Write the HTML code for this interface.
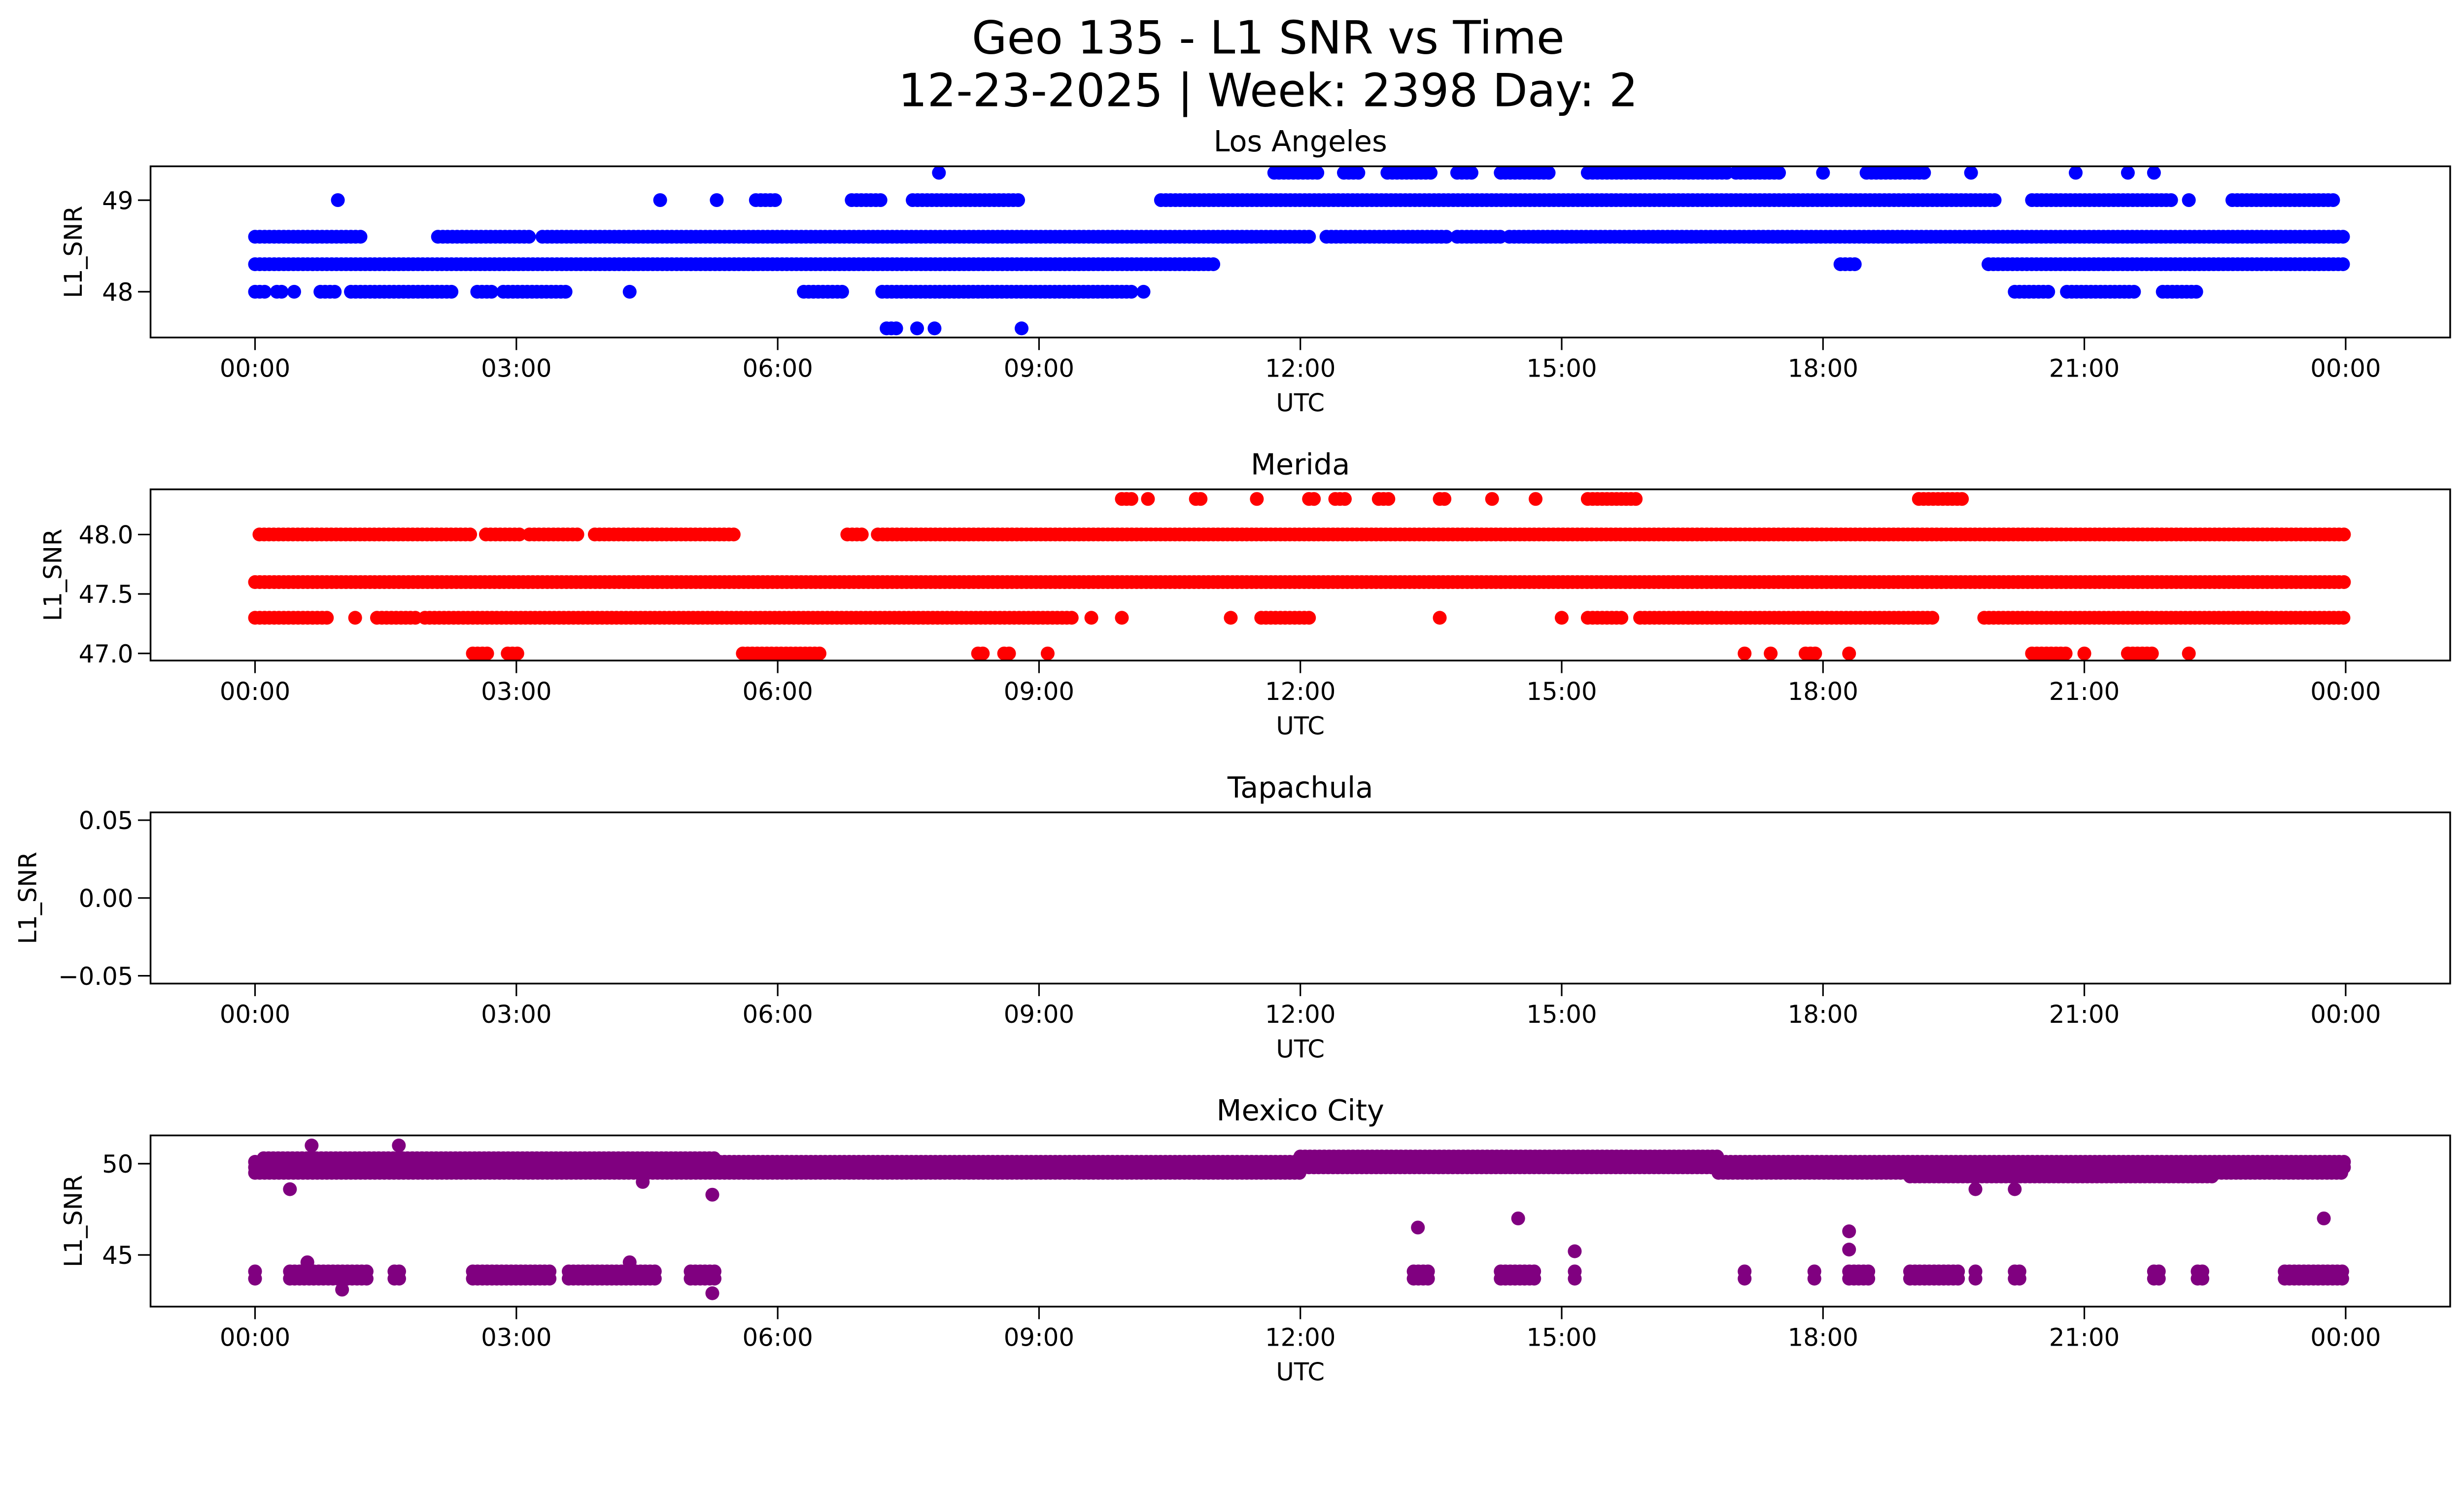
<!DOCTYPE html>
<html><head><meta charset="utf-8"><style>
html,body{margin:0;padding:0;background:#fff;overflow:hidden;}
svg{display:block;position:absolute;left:0;top:0;width:100vw;height:56.958vw;}
text{font-family:"DejaVu Sans","Liberation Sans",sans-serif;fill:#000;}
</style></head><body>
<svg id="chart" xmlns="http://www.w3.org/2000/svg" viewBox="0 0 1568 893" preserveAspectRatio="none">
<rect x="0" y="0" width="1568" height="893" fill="#fff"/>
<text x="807" y="34" font-size="29" text-anchor="middle">Geo 135 - L1 SNR vs Time</text>
<text x="807" y="67.5" font-size="29" text-anchor="middle">12-23-2025 | Week: 2398 Day: 2</text>
<g id="plots"></g>
</svg>
<script>
const xTickLabels = ["00:00","03:00","06:00","09:00","12:00","15:00","18:00","21:00","00:00"];
const xTickHours = [0,3,6,9,12,15,18,21,24];
const panelNames = ["Los Angeles","Merida","Tapachula","Mexico City"];
const panelColors = ["#0000ff","#ff0000","#ff00ff","#800080"];
const yTicks0 = [48,49];
const yTickLabels0 = ["48","49"];
const yTicks1 = [47.0,47.5,48.0];
const yTickLabels1 = ["47.0","47.5","48.0"];
const yTicks2 = [-0.05,0,0.05];
const yTickLabels2 = ["\u22120.05","0.00","0.05"];
const yTicks3 = [45,50];
const yTickLabels3 = ["45","50"];
// runs: [startHour, endHour, SNR]
const laRuns = [
 [0,11.0,48.3],[18.2,18.4,48.3],[19.9,24,48.3],
 [0,1.25,48.6],[2.1,3.15,48.6],[3.3,12.1,48.6],[12.3,13.7,48.6],[13.8,14.3,48.6],[14.4,24,48.6],
 [0,0.15,48.0],[0.25,0.35,48.0],[0.45,0.45,48.0],[0.75,0.95,48.0],[1.1,2.3,48.0],[2.55,2.75,48.0],[2.85,3.6,48.0],[4.3,4.3,48.0],[6.3,6.75,48.0],[7.2,10.1,48.0],[10.2,10.2,48.0],[20.2,20.6,48.0],[20.8,21.6,48.0],[21.9,22.3,48.0],
 [0.95,0.95,49.0],[4.65,4.65,49.0],[5.3,5.3,49.0],[5.75,6.0,49.0],[6.85,7.2,49.0],[7.55,8.8,49.0],[10.4,20.0,49.0],[20.4,22.0,49.0],[22.2,22.2,49.0],[22.7,23.9,49.0],
 [7.85,7.85,49.3],[11.7,12.2,49.3],[12.5,12.7,49.3],[13.0,13.5,49.3],[13.8,14.0,49.3],[14.3,14.9,49.3],[15.3,16.9,49.3],[17.0,17.5,49.3],[18.0,18.0,49.3],[18.5,19.2,49.3],[19.7,19.7,49.3],[20.9,20.9,49.3],[21.5,21.5,49.3],[21.8,21.8,49.3],
 [7.25,7.4,47.6],[7.6,7.6,47.6],[7.8,7.8,47.6],[8.8,8.8,47.6]
];
const meridaRuns = [
 [0,24,47.6],
 [0.05,2.5,48.0],[2.65,3.05,48.0],[3.15,3.7,48.0],[3.9,5.5,48.0],[6.8,7.0,48.0],[7.15,24,48.0],
 [0,0.85,47.3],[1.15,1.15,47.3],[1.4,1.85,47.3],[1.95,9.4,47.3],[9.6,9.6,47.3],[9.95,9.95,47.3],[11.2,11.2,47.3],[11.55,12.1,47.3],[13.6,13.6,47.3],[15.0,15.0,47.3],[15.3,15.7,47.3],[15.9,19.3,47.3],[19.85,24,47.3],
 [2.5,2.7,47.0],[2.9,3.05,47.0],[5.6,6.5,47.0],[8.3,8.4,47.0],[8.6,8.7,47.0],[9.1,9.1,47.0],[17.1,17.1,47.0],[17.4,17.4,47.0],[17.8,17.95,47.0],[18.3,18.3,47.0],[20.4,20.8,47.0],[21.0,21.0,47.0],[21.5,21.8,47.0],[22.2,22.2,47.0],
 [9.95,10.1,48.3],[10.25,10.25,48.3],[10.8,10.9,48.3],[11.5,11.5,48.3],[12.1,12.2,48.3],[12.4,12.55,48.3],[12.9,13.05,48.3],[13.6,13.7,48.3],[14.2,14.2,48.3],[14.7,14.7,48.3],[15.3,15.85,48.3],[19.1,19.6,48.3]
];
const tapachulaRuns = [];
const mexicoRuns = [
 [0,12,49.5],[16.8,24,49.5],[0,24,49.8],[0,24,50.1],[12,16.8,50.4],[0.1,5.3,50.3],[19,22.5,49.3],
 [0,0.05,43.7],[0.4,1.3,43.7],[1.6,1.7,43.7],[2.5,3.4,43.7],[3.6,4.6,43.7],[5.0,5.3,43.7],[13.3,13.5,43.7],[14.3,14.7,43.7],[15.15,15.2,43.7],[17.1,17.15,43.7],[17.9,17.95,43.7],[18.3,18.55,43.7],[19.0,19.6,43.7],[19.75,19.8,43.7],[20.2,20.3,43.7],[21.8,21.9,43.7],[22.3,22.4,43.7],[23.3,24,43.7],
 [0,0.05,44.1],[0.4,1.3,44.1],[1.6,1.7,44.1],[2.5,3.4,44.1],[3.6,4.6,44.1],[5.0,5.3,44.1],[13.3,13.5,44.1],[14.3,14.7,44.1],[15.15,15.2,44.1],[17.1,17.15,44.1],[17.9,17.95,44.1],[18.3,18.55,44.1],[19.0,19.6,44.1],[19.75,19.8,44.1],[20.2,20.3,44.1],[21.8,21.9,44.1],[22.3,22.4,44.1],[23.3,24,44.1]
];
const mexicoPoints = [[0.4,48.6],[0.65,51.0],[1.65,51.0],[4.45,49.0],[5.25,48.3],[5.25,42.9],[1.0,43.1],[13.35,46.5],[14.5,47.0],[15.15,45.2],[18.3,46.3],[18.3,45.3],[19.75,48.6],[20.2,48.6],[23.75,47.0],[4.3,44.6],[0.6,44.6]];

const NS="http://www.w3.org/2000/svg";
const root=document.getElementById('plots');
const PL=95.8, PR=1559.2, PH=108.9;
const panelTops=[105.8,311.3,516.8,722.3];
const yDomains=[[47.5,49.37],[46.94,48.38],[-0.055,0.055],[42.17,51.55]];
const yTickSets=[[yTicks0,yTickLabels0],[yTicks1,yTickLabels1],[yTicks2,yTickLabels2],[yTicks3,yTickLabels3]];
const runSets=[laRuns,meridaRuns,tapachulaRuns,mexicoRuns];
const ylabelX=[52,39,23,52];
function xs(h){return 162.3+h*(1330.4/24);}
function mk(tag,attrs,parent){const e=document.createElementNS(NS,tag);for(const k in attrs)e.setAttribute(k,attrs[k]);parent.appendChild(e);return e;}
for(let p=0;p<4;p++){
  const top=panelTops[p], bot=top+PH, d=yDomains[p];
  const ys=v=>bot-(v-d[0])/(d[1]-d[0])*PH;
  const g=mk('g',{},root);
  
  
  const pts=mk('g',{fill:panelColors[p]},g);
  
  
  const step=0.055;
  runSets[p].forEach(r=>{
    for(let h=r[0];h<=r[1]+1e-9;h+=step){
      const c=mk('circle',{cx:xs(h).toFixed(1),cy:ys(r[2]).toFixed(1),r:4.4},pts);
      
      
    }
  });
  if(p===3){mexicoPoints.forEach(q=>{
    const c=mk('circle',{cx:xs(q[0]).toFixed(1),cy:ys(q[1]).toFixed(1),r:4.4},pts);
    
    
  });}
  const fr=mk('rect',{x:PL,y:top,width:PR-PL,height:PH,fill:'none',stroke:'#000','stroke-width':1.1},g);
  
  
  xTickHours.forEach((h,i)=>{
    mk('line',{x1:xs(h),x2:xs(h),y1:bot,y2:bot+8,stroke:'#000','stroke-width':1},g);
    const t=mk('text',{x:xs(h),y:bot+25,'font-size':15.6,'text-anchor':'middle'},g);
    t.textContent=xTickLabels[i];
    
    
  });
  const [tv,tl]=yTickSets[p];
  tv.forEach((v,i)=>{
    mk('line',{x1:PL-8,x2:PL,y1:ys(v),y2:ys(v),stroke:'#000','stroke-width':1},g);
    const t=mk('text',{x:PL-11,y:ys(v)+5.7,'font-size':15.6,'text-anchor':'end'},g);
    t.textContent=tl[i];
    
    
  });
  const xl=mk('text',{x:(PL+PR)/2,y:bot+47,'font-size':15.6,'text-anchor':'middle'},g);
  xl.textContent='UTC';
  
  
  const cy=top+PH/2;
  const yl=mk('text',{x:ylabelX[p],y:cy,'font-size':15.6,'text-anchor':'middle',transform:'rotate(-90 '+ylabelX[p]+' '+cy+')'},g);
  yl.textContent='L1_SNR';
  
  
  const ti=mk('text',{x:(PL+PR)/2,y:top-9.5,'font-size':18.5,'text-anchor':'middle'},g);
  ti.textContent=panelNames[p];
  
  
}
</script>
</body></html>
